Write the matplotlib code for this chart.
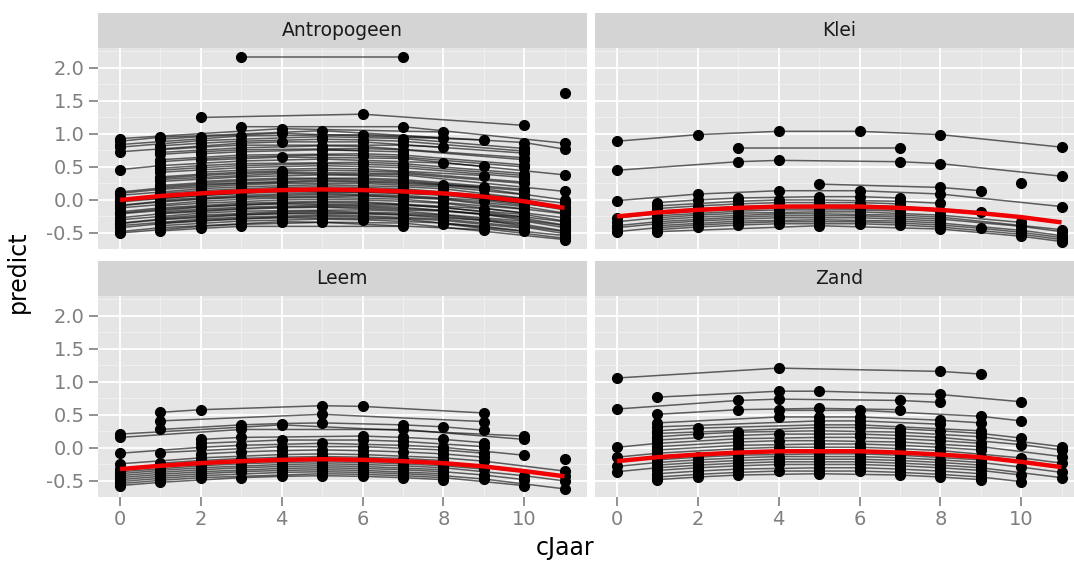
import numpy as np
import matplotlib.pyplot as plt

plt.rcParams['font.family'] = ['DejaVu Sans']

cjaar = list(range(12))

fit_antropogeen = [0.00, 0.06, 0.10, 0.13, 0.15, 0.16, 0.15, 0.13, 0.10, 0.05, -0.02, -0.12]
fit_klei = [-0.25, -0.19, -0.15, -0.12, -0.10, -0.10, -0.10, -0.12, -0.15, -0.20, -0.26, -0.34]
fit_leem = [-0.32, -0.27, -0.23, -0.20, -0.18, -0.17, -0.18, -0.20, -0.23, -0.28, -0.35, -0.43]
fit_zand = [-0.20, -0.14, -0.10, -0.07, -0.05, -0.05, -0.05, -0.07, -0.10, -0.14, -0.21, -0.29]

# random intercept per perceel (afwijking t.o.v. de rode curve) en de jaren met een meting
off_antropogeen = [2.04, 1.74, 1.15, 0.98, 0.93, 0.89, 0.86, 0.84, 0.80, 0.73,
                   0.70, 0.66, 0.60, 0.55, 0.50, 0.46, 0.42, 0.36, 0.32, 0.27,
                   0.22, 0.18, 0.14, 0.10, 0.07, 0.04, 0.01, -0.03, -0.06, -0.09,
                   -0.12, -0.15, -0.18, -0.21, -0.24, -0.27, -0.30, -0.33, -0.36, -0.39,
                   -0.42, -0.45, -0.48, -0.50, -0.53, -0.46, 0.25, -0.01, 0.60,
                   0.76, 0.63, 0.52, 0.39, 0.29, 0.16, 0.12, -0.08, -0.20, -0.26,
                   -0.35, -0.41]
jaren_antropogeen = [[3, 7], [11], [2, 6, 10], [3, 7, 11], [0, 4, 8], [0, 1, 5, 10, 11],
                     [1, 2, 4, 9], [0, 3, 6, 8], [0, 2, 5, 7, 10], [0, 3, 4, 6, 10],
                     [1, 2, 3, 7, 8], [1, 3, 5, 6, 10], [2, 3, 5, 7], [1, 3, 6, 7, 10],
                     [2, 4, 7, 11], [0, 1, 3, 5, 8, 9], [1, 2, 3, 6, 7, 10], [1, 3, 5, 7, 10],
                     [2, 3, 5, 6, 9], [1, 2, 3, 4, 7, 10], [1, 3, 5, 6, 7], [2, 3, 4, 6, 7, 10],
                     [1, 2, 5, 7, 9], [0, 1, 3, 4, 6, 8, 10], [0, 2, 3, 5, 7, 8, 11],
                     [1, 2, 3, 4, 5, 6, 7, 10], [0, 1, 2, 5, 6, 7, 9, 11],
                     [0, 2, 3, 4, 6, 7, 8, 10, 11], [1, 3, 4, 5, 7, 9, 10],
                     [0, 1, 2, 3, 6, 8, 11], [0, 2, 3, 4, 5, 7, 10], [1, 2, 4, 5, 6, 7, 8, 11],
                     [0, 1, 3, 5, 6, 9, 10], [0, 2, 3, 4, 7, 8, 11], [1, 2, 3, 5, 6, 7, 10],
                     [0, 1, 3, 4, 5, 8, 9, 11], [0, 2, 3, 6, 7, 10, 11], [1, 2, 4, 5, 7, 8, 10],
                     [0, 1, 3, 4, 6, 7, 9, 11], [0, 2, 3, 5, 6, 8, 10, 11],
                     [0, 1, 2, 3, 4, 7, 11], [1, 3, 5, 6, 8, 9, 10], [0, 1, 4, 7, 11],
                     [0, 2, 3, 5, 9], [1, 2, 3, 7], [8, 11], [1, 4, 7, 11], [0, 4, 8, 11],
                     [5, 6],
                     [1, 2, 3, 5, 6, 7, 10], [1, 2, 3, 6, 7, 10], [1, 2, 3, 5, 6, 7, 10],
                     [1, 2, 3, 5, 6, 7, 10], [1, 2, 3, 4, 5, 6, 7, 10],
                     [1, 2, 3, 4, 5, 6, 7, 10], [0, 1, 2, 3, 5, 6, 7, 8, 9, 11],
                     [0, 1, 2, 3, 4, 5, 6, 7, 8, 10, 11], [0, 1, 2, 3, 4, 5, 6, 7, 10, 11],
                     [1, 2, 3, 4, 5, 6, 7, 8, 10, 11], [0, 1, 2, 3, 4, 5, 6, 7, 8, 10, 11],
                     [1, 2, 3, 4, 5, 6, 7, 8, 10]]

off_klei = [1.14, 0.90, 0.70, 0.34, 0.52, 0.24, 0.15, 0.10, 0.06, 0.02,
            -0.02, -0.05, -0.08, -0.11, -0.14, -0.17, -0.20, -0.23, -0.26, -0.29]
jaren_klei = [[0, 2, 4, 6, 8, 11], [3, 7], [0, 3, 4, 7, 8, 11], [5, 8, 9], [10],
              [0, 2, 4, 6, 8, 11], [1, 2, 3, 5, 6, 7], [1, 3, 4, 5, 7, 8],
              [1, 2, 3, 4, 5, 6, 7], [1, 3, 5, 6, 7, 9], [0, 1, 2, 4, 5, 7, 8],
              [1, 3, 4, 5, 6, 7], [0, 1, 2, 3, 5, 6, 8, 10], [1, 2, 4, 5, 7, 8, 11],
              [0, 1, 3, 4, 5, 6, 7, 8, 10, 11], [0, 1, 2, 3, 4, 5, 6, 7, 8],
              [1, 3, 5, 7, 8, 10, 11], [0, 1, 2, 3, 4, 5, 6, 7, 8, 9, 10, 11],
              [1, 2, 3, 4, 5, 6, 7, 8, 10, 11], [1, 5, 8, 10, 11]]

off_leem = [0.81, 0.68, 0.55, 0.48, 0.53, 0.36, 0.30, 0.24, 0.20, 0.27,
            0.14, 0.08, 0.04, 0.00, -0.04, -0.07, -0.10, -0.13, -0.16, -0.19,
            -0.22, -0.25]
jaren_leem = [[1, 2, 5, 6, 9], [1, 5, 9], [1, 3, 4, 5, 7, 8, 9], [0, 3, 7, 10], [0, 4, 10],
              [2, 3, 6, 7, 8, 9], [2, 4, 6, 7, 9], [0, 2, 3, 5, 7, 8, 10], [1, 4, 6, 8, 9],
              [11], [2, 3, 4, 5, 6, 7, 8, 9], [0, 2, 4, 5, 6, 8, 9, 11],
              [1, 2, 3, 4, 5, 6, 7, 8], [0, 1, 2, 4, 5, 6, 8, 11],
              [0, 2, 3, 4, 5, 6, 7, 8, 9], [0, 1, 2, 4, 5, 6, 7, 8, 10, 11],
              [0, 1, 2, 3, 4, 5, 6, 8], [0, 1, 2, 4, 5, 6, 7, 8, 9, 10],
              [0, 1, 2, 3, 4, 5, 6, 8], [0, 1, 2, 4, 5, 6, 7, 8, 9, 11],
              [0, 1, 2, 5, 6, 7, 8, 10], [0, 1, 3, 4, 5, 6, 7, 8]]

off_zand = [1.26, 0.91, 0.79, 0.65, 0.62, 0.52, 0.46, 0.40, 0.36, 0.31,
            0.26, 0.21, 0.16, 0.11, 0.06, 0.01, -0.04, -0.08, -0.12, -0.16,
            -0.20, -0.25, -0.30, -0.34]
jaren_zand = [[0, 4, 8, 9], [1, 4, 5, 8, 10], [0, 3, 4, 7, 8], [1, 3, 5, 7], [4, 6, 9, 10],
              [1, 4, 5, 6, 8, 9], [1, 5, 6, 8], [1, 2, 5, 6, 9], [1, 5, 6, 7, 8, 9, 10],
              [1, 2, 3, 5, 7, 9, 11], [1, 3, 4, 5, 6, 7, 8, 10, 11], [0, 1, 3, 5, 6, 7, 8, 9],
              [1, 3, 4, 5, 7, 9, 11], [1, 3, 5, 6, 7, 8, 9], [0, 1, 3, 4, 5, 6, 7, 8, 10, 11],
              [1, 3, 4, 5, 7, 8, 9], [1, 2, 3, 5, 6, 7, 9],
              [0, 1, 2, 3, 4, 5, 6, 7, 8, 9, 10, 11], [1, 2, 3, 4, 5, 6, 7, 8, 9],
              [0, 1, 2, 3, 4, 5, 6, 7, 8, 9, 11], [1, 2, 3, 4, 5, 6, 7, 8, 9, 10],
              [1, 2, 3, 5, 6, 7, 8, 9], [1, 2, 3, 4, 5, 6, 7, 8, 9, 10],
              [1, 2, 3, 5, 7, 8, 9]]

facetten = ['Antropogeen', 'Klei', 'Leem', 'Zand']
fits = [fit_antropogeen, fit_klei, fit_leem, fit_zand]
offsets = [off_antropogeen, off_klei, off_leem, off_zand]
jaren = [jaren_antropogeen, jaren_klei, jaren_leem, jaren_zand]

x_ticks = [0, 2, 4, 6, 8, 10]
y_ticks = [-0.5, 0.0, 0.5, 1.0, 1.5, 2.0]

fig = plt.figure(figsize=(10.74, 5.65), dpi=100)
W, H = 1074, 565

# paneel posities in pixels (links, boven)
panel_left = [97.8, 594.8, 97.8, 594.8]
panel_top = [47.5, 47.5, 295.5, 295.5]
pw, ph = 489, 201.3
strip_h = 34.5

for i, naam in enumerate(facetten):
    l, t = panel_left[i], panel_top[i]
    ax = fig.add_axes([l / W, 1 - (t + ph) / H, pw / W, ph / H])
    ax.set_facecolor('#E5E5E5')
    ax.set_xlim(-0.55, 11.55)
    ax.set_ylim(-0.74, 2.31)
    ax.set_xticks(x_ticks)
    ax.set_yticks(y_ticks)
    ax.set_xticks([1, 3, 5, 7, 9, 11], minor=True)
    ax.set_yticks([-0.25, 0.25, 0.75, 1.25, 1.75, 2.25], minor=True)
    ax.grid(True, which='major', color='white', lw=1.3)
    ax.grid(True, which='minor', color='#F2F2F2', lw=0.6)
    ax.set_axisbelow(True)
    for s in ax.spines.values():
        s.set_visible(False)
    ax.tick_params(which='minor', length=0)
    ax.tick_params(which='major', color='#7F7F7F', width=1.2, length=6.5,
                   labelcolor='#7F7F7F', labelsize=14, pad=3)
    ax.set_yticklabels(['-0.5', '0.0', '0.5', '1.0', '1.5', '2.0'])
    if i % 2 == 1:
        ax.tick_params(axis='y', length=0, labelleft=False)
    if i < 2:
        ax.tick_params(axis='x', length=0, labelbottom=False)

    fit = np.array(fits[i])
    for off, jr in zip(offsets[i], jaren[i]):
        jr = np.array(jr)
        y = fit[jr] + off
        ax.plot(jr, y, color='black', alpha=0.6, lw=1.1, zorder=2)
        ax.plot(jr, y, 'o', color='black', ms=7, zorder=3)
    ax.plot(cjaar, fit, color='#F00000', lw=3.2, zorder=4, solid_capstyle='butt')

    sax = fig.add_axes([l / W, 1 - t / H, pw / W, strip_h / H])
    sax.set_facecolor('#D4D4D4')
    sax.set_xticks([])
    sax.set_yticks([])
    for s in sax.spines.values():
        s.set_visible(False)
    sax.text(0.5, 0.5, naam, ha='center', va='center', fontsize=13.5,
             color='#1A1A1A', transform=sax.transAxes)

fig.text(565 / W, 1 - 548 / H, 'cJaar', ha='center', va='center', fontsize=17)
fig.text(18 / W, 1 - 272 / H, 'predict', ha='center', va='center', fontsize=17,
         rotation=90)

fig.savefig('out.png', dpi=100)
